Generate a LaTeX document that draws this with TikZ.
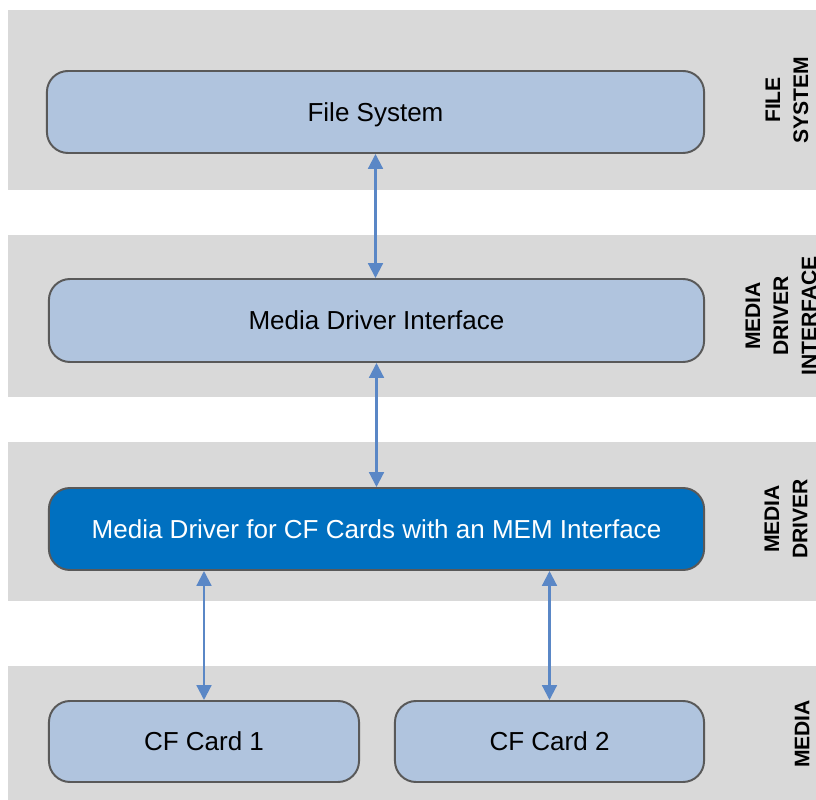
\documentclass[tikz,border=0pt]{standalone}
\usepackage{fontspec}
\setmainfont{Liberation Sans}
\usepackage{tikz}
\usetikzlibrary{arrows.meta}
\usetikzlibrary{positioning}
\usepackage{xcolor}
\definecolor{bandgray}{HTML}{D9D9D9}
\definecolor{boxblue}{HTML}{B0C4DE}
\definecolor{darkblue}{HTML}{0070C0}
\definecolor{edgegray}{HTML}{595959}
\definecolor{arrowblue}{HTML}{5A87C6}

\begin{document}
\begin{tikzpicture}[x=0.025cm,y=-0.025cm,
  layer/.style={draw=edgegray,line width=1.4pt,fill=boxblue,rounded corners=15pt,
    inner sep=0pt,text height=13.3pt,text depth=0pt,font=\fontsize{18.5}{22}\selectfont},
  sidelabel/.style={rotate=90,align=center,font=\bfseries\fontsize{15}{20}\selectfont},
  link/.style={{Triangle[width=10.5pt,length=10.5pt]}-{Triangle[width=10.5pt,length=10.5pt]},
    arrowblue,line width=1.5pt}]
\useasboundingbox (0,0) rectangle (816,800);
% gray bands
\fill[bandgray] (8,10) rectangle (830,190);
\fill[bandgray] (8,235) rectangle (830,397);
\fill[bandgray] (8,442) rectangle (830,601);
\fill[bandgray] (8,666) rectangle (830,810);
% boxes
\node[layer,minimum width=16.425cm,minimum height=2.05cm] (fs) at (375.5,112) {File System};
\node[layer,minimum width=16.375cm,minimum height=2.075cm] (mdi) at (376.5,320.5) {Media Driver Interface};
\node[layer,fill=darkblue,text=white,minimum width=16.375cm,minimum height=2.05cm] (drv) at (376.5,529)
  {Media Driver for CF Cards with an MEM Interface};
\node[layer,minimum width=7.75cm,minimum height=2.025cm] (c1) at (204,741.5) {CF Card 1};
\node[layer,minimum width=7.725cm,minimum height=2.025cm] (c2) at (549.5,741.5) {CF Card 2};
% side labels
\node[sidelabel] (lfs) at (787,100) {FILE\\SYSTEM};
\node[sidelabel] (lmdi) at (781,316) {MEDIA\\DRIVER\\INTERFACE};
\node[sidelabel] (ldrv) at (786,519) {MEDIA\\DRIVER};
\node[sidelabel] (lmed) at (802,734) {MEDIA};
% arrows
\draw[link] (fs.south) -- (mdi.north -| fs.south);
\draw[link] (mdi.south) -- (drv.north);
\draw[link] (drv.south -| c1.north) -- (c1.north);
\draw[link] (drv.south -| c2.north) -- (c2.north);
\end{tikzpicture}
\end{document}
